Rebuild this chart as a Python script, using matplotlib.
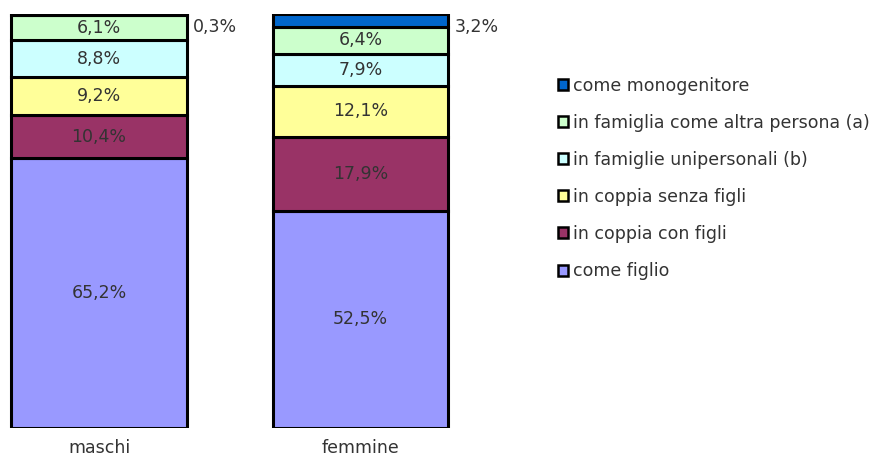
import matplotlib.pyplot as plt
import numpy as np

groups = ["maschi", "femmine"]
categories = ["come figlio", "in coppia con figli", "in coppia senza figli",
              "in famiglie unipersonali (b)", "in famiglia come altra persona (a)",
              "come monogenitore"]
maschi = [65.2, 10.4, 9.2, 8.8, 6.1, 0.3]
femmine = [52.5, 17.9, 12.1, 7.9, 6.4, 3.2]
labels_m = ["65,2%", "10,4%", "9,2%", "8,8%", "6,1%", "0,3%"]
labels_f = ["52,5%", "17,9%", "12,1%", "7,9%", "6,4%", "3,2%"]
colors = ["#9999FF", "#993366", "#FFFF99", "#CCFFFF", "#CCFFCC", "#0066CC"]

FS = 12.5
W, H = 892, 459
fig = plt.figure(figsize=(W / 100, H / 100), dpi=100)
ax = fig.add_axes([0, 31 / H, 500 / W, 414 / H])

x = np.arange(len(groups))
data = np.array([maschi, femmine]).T
labels = [labels_m, labels_f]
bottom = np.zeros(len(groups))
bars = []
for i, cat in enumerate(categories):
    b = ax.bar(x, data[i], 0.673, bottom=bottom, color=colors[i],
               edgecolor="black", linewidth=2.2, label=cat)
    bars.append(b)
    for j in range(len(groups)):
        if i == len(categories) - 1:
            # smallest share is written outside, right of the bar top
            ax.text(x[j] + 0.36, 100 - 3.2, labels[j][i], ha="left", va="center",
                    fontsize=FS, color="#333333")
        else:
            ax.text(x[j], bottom[j] + data[i][j] / 2, labels[j][i], ha="center",
                    va="center", fontsize=FS, color="#333333")
    bottom += data[i]

ax.set_xlim(-99 / 261.5, (500 - 99) / 261.5)
ax.set_ylim(0, 100)
ax.set_xticks(x)
ax.set_xticklabels(groups, fontsize=FS, color="#333333")
ax.tick_params(axis="x", length=0, pad=8)
ax.set_yticks([])
for s in ax.spines.values():
    s.set_visible(False)

leg = fig.legend(bars[::-1], categories[::-1], loc="upper left",
                 bbox_to_anchor=(549 / W, 1 - 68 / H), frameon=False,
                 fontsize=FS, handlelength=0.6, handleheight=0.6,
                 handletextpad=0.3, labelspacing=1.1, borderpad=0)
for t in leg.get_texts():
    t.set_color("#333333")
for h in leg.legend_handles:
    h.set_linewidth(1.8)

fig.savefig("out.png", dpi=100)
